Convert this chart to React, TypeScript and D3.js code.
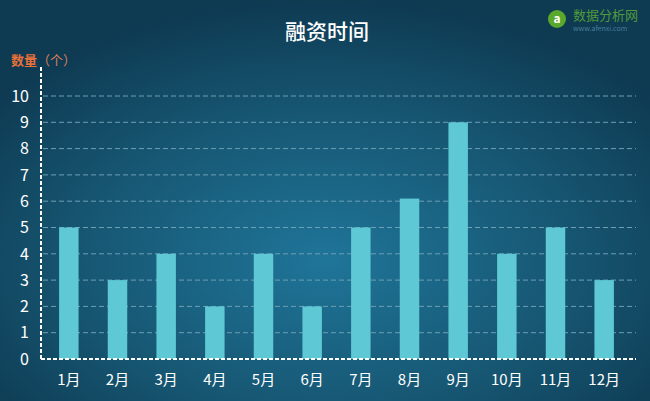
import { useEffect, useRef } from 'react'
import * as d3 from 'd3'

const months = ['1月', '2月', '3月', '4月', '5月', '6月', '7月', '8月', '9月', '10月', '11月', '12月']
const counts = [5, 3, 4, 2, 4, 2, 5, 6.1, 9, 4, 5, 3]
const yTicks = [0, 1, 2, 3, 4, 5, 6, 7, 8, 9, 10]

export default function App() {
  const svgRef = useRef<SVGSVGElement>(null)

  useEffect(() => {
    if (!svgRef.current) return
    const svg = d3.select(svgRef.current)
    svg.selectAll('*').remove()

    const W = 650
    const H = 401
    const font = '"Noto Sans CJK SC", "Noto Sans", sans-serif'

    // background radial gradient
    const defs = svg.append('defs')
    const grad = defs.append('radialGradient')
      .attr('id', 'bg')
      .attr('cx', 0.5).attr('cy', 0.65).attr('r', 0.65)
    grad.append('stop').attr('offset', '0%').attr('stop-color', '#1f7599')
    grad.append('stop').attr('offset', '55%').attr('stop-color', '#175874')
    grad.append('stop').attr('offset', '100%').attr('stop-color', '#0e3a52')
    svg.append('rect').attr('width', W).attr('height', H).attr('fill', 'url(#bg)')

    const x = d3.scaleBand<string>()
      .domain(months)
      .range([44.5, 628.5])
      .paddingInner(0.6)
      .paddingOuter(0.3)

    const y = d3.scaleLinear().domain([0, 10]).range([359, 96])

    const axisLeft = 41
    const axisRight = 636

    // gridlines
    svg.append('g')
      .selectAll('line')
      .data(yTicks.filter(t => t > 0))
      .enter().append('line')
      .attr('x1', axisLeft + 2).attr('x2', axisRight)
      .attr('y1', d => y(d)).attr('y2', d => y(d))
      .attr('stroke', '#6d9fb5')
      .attr('stroke-width', 1)
      .attr('stroke-dasharray', '5,3')

    // bars
    svg.append('g')
      .selectAll('rect')
      .data(counts)
      .enter().append('rect')
      .attr('x', (d, i) => x(months[i])!)
      .attr('width', x.bandwidth())
      .attr('y', d => y(d))
      .attr('height', d => y(0) - y(d))
      .attr('fill', '#5ec8d5')

    // axes
    svg.append('line')
      .attr('x1', axisLeft).attr('x2', axisRight)
      .attr('y1', y(0)).attr('y2', y(0))
      .attr('stroke', '#ffffff').attr('stroke-width', 2)
      .attr('stroke-dasharray', '4,2')
    svg.append('line')
      .attr('x1', axisLeft).attr('x2', axisLeft)
      .attr('y1', 67).attr('y2', y(0))
      .attr('stroke', '#ffffff').attr('stroke-width', 2)
      .attr('stroke-dasharray', '4,2')

    // y tick labels
    svg.append('g')
      .selectAll('text')
      .data(yTicks)
      .enter().append('text')
      .attr('x', 29)
      .attr('y', d => y(d))
      .attr('dy', '0.36em')
      .attr('text-anchor', 'end')
      .attr('fill', '#ffffff')
      .style('font-family', font)
      .style('font-size', '16px')
      .text(d => d)

    // x tick labels
    svg.append('g')
      .selectAll('text')
      .data(months)
      .enter().append('text')
      .attr('x', d => x(d)! + x.bandwidth() / 2)
      .attr('y', 380)
      .attr('dy', '0.36em')
      .attr('text-anchor', 'middle')
      .attr('fill', '#ffffff')
      .style('font-family', font)
      .style('font-size', '15px')
      .text(d => d)

    // title
    svg.append('text')
      .attr('x', 327)
      .attr('y', 31)
      .attr('dy', '0.36em')
      .attr('text-anchor', 'middle')
      .attr('fill', '#ffffff')
      .style('font-family', font)
      .style('font-size', '21px')
      .style('font-weight', '500')
      .text('融资时间')

    // y-axis label
    const yl = svg.append('text')
      .attr('x', 11)
      .attr('y', 60)
      .attr('dy', '0.36em')
      .attr('fill', '#e8703a')
      .style('font-family', font)
      .style('font-size', '13px')
    yl.append('tspan').style('font-weight', 'bold').text('数量')
    yl.append('tspan').attr('fill', '#d9805a').text('（个）')

    // watermark
    const wm = svg.append('g').attr('transform', 'translate(548,12)')
    wm.append('circle').attr('cx', 9).attr('cy', 7).attr('r', 9).attr('fill', '#5aa82c')
    wm.append('text')
      .attr('x', 9).attr('y', 7).attr('dy', '0.36em')
      .attr('text-anchor', 'middle')
      .attr('fill', '#ffffff')
      .style('font-family', font)
      .style('font-size', '12px')
      .style('font-weight', 'bold')
      .text('a')
    wm.append('text')
      .attr('x', 25).attr('y', 3).attr('dy', '0.36em')
      .attr('fill', '#4e9a3a')
      .style('font-family', font)
      .style('font-size', '13px')
      .text('数据分析网')
    wm.append('text')
      .attr('x', 25).attr('y', 16).attr('dy', '0.36em')
      .attr('fill', '#4a7f9a')
      .style('font-family', font)
      .style('font-size', '7px')
      .text('www.afenxi.com')
  }, [])

  return (
    <div style={{ position: 'absolute', left: 0, top: 0 }}>
      <svg ref={svgRef} width={650} height={401} style={{ display: 'block' }}></svg>
    </div>
  )
}
